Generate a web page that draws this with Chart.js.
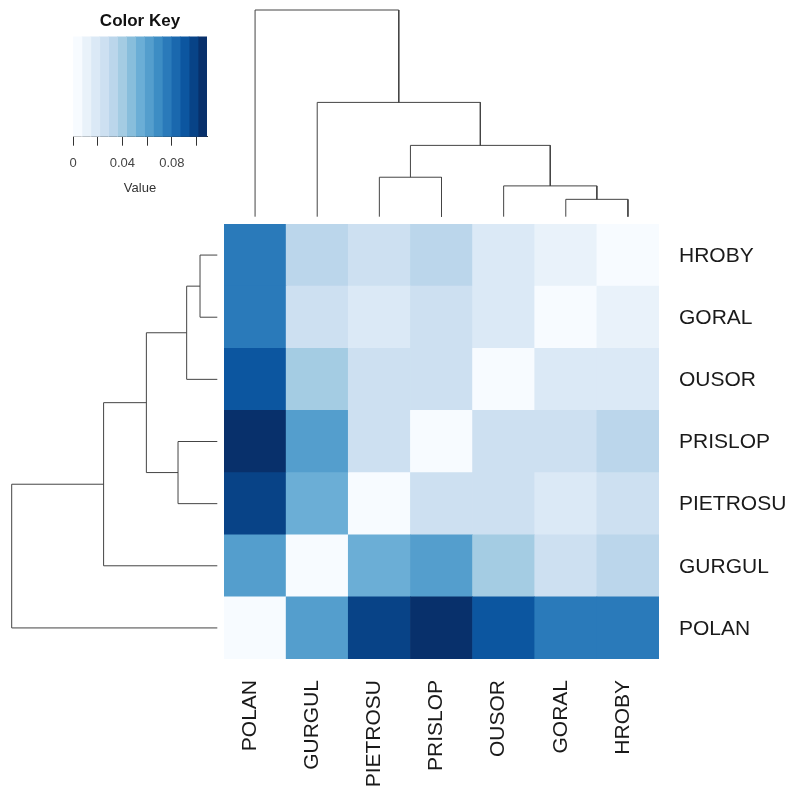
<!DOCTYPE html>
<html>
<head>
<meta charset="utf-8">
<title>Population distance heatmap</title>
<script src="https://cdn.jsdelivr.net/npm/chart.js@4.4.1/dist/chart.umd.min.js"></script>
<style>
  body { margin: 0; background: #fff; }
  canvas { position: absolute; }
</style>
</head>
<body>
<canvas id="key" width="240" height="200" style="left:0;top:0"></canvas>
<canvas id="topTree" width="435" height="224" style="left:224px;top:0"></canvas>
<canvas id="leftTree" width="224" height="435" style="left:0;top:224px"></canvas>
<canvas id="heat" width="579" height="572" style="left:224px;top:224px"></canvas>
<script>
// leaf order (left to right, and bottom to top)
const populations = ['POLAN', 'GURGUL', 'PIETROSU', 'PRISLOP', 'OUSOR', 'GORAL', 'HROBY'];

// pairwise values, one array per row, columns in the populations order
const valPolan    = [0.000, 0.062, 0.097, 0.105, 0.090, 0.076, 0.076];
const valGurgul   = [0.062, 0.000, 0.054, 0.062, 0.040, 0.025, 0.032];
const valPietrosu = [0.097, 0.054, 0.000, 0.025, 0.025, 0.018, 0.025];
const valPrislop  = [0.105, 0.062, 0.025, 0.000, 0.025, 0.025, 0.032];
const valOusor    = [0.090, 0.040, 0.025, 0.025, 0.000, 0.018, 0.018];
const valGoral    = [0.076, 0.025, 0.018, 0.025, 0.018, 0.000, 0.011];
const valHroby    = [0.076, 0.032, 0.025, 0.032, 0.018, 0.011, 0.000];

// clustering (hclust style): negative = leaf -(index+1), positive = earlier merge
const mergeA = [-6, -5, -3, 3, -2, -1];
const mergeB = [-7, 1, -4, 2, 4, 5];
const mergeHeights = [0.084, 0.149, 0.191, 0.345, 0.553, 1.0];

// colour key
const keyColors = ['#F7FBFF', '#E9F2FA', '#DBE9F6', '#CDE0F1', '#BBD6EB', '#A4CCE3', '#88BEDC', '#6BAED6',
                   '#549ECD', '#3D8DC4', '#2A7ABA', '#1A68AE', '#0C56A0', '#084387', '#08306B'];
const keyMax = 0.1085;
const keyTicks = [0, 0.02, 0.04, 0.06, 0.08, 0.10];
const keyTickLabels = ['0', '', '0.04', '', '0.08', ''];

const FONT = '"Liberation Sans", Arial, sans-serif';
const lineColor = '#444';
const binWidth = keyMax / keyColors.length;

function valueColor(v) {
  let i = Math.floor(v / binWidth);
  if (i < 0) i = 0;
  if (i > keyColors.length - 1) i = keyColors.length - 1;
  return keyColors[i];
}

// --- dendrogram links from the merge table
const nodes = [];
function getNode(ref) {
  if (ref < 0) return { pos: -ref - 1, h: 0 };
  return nodes[ref - 1];
}
const links = [];
for (let k = 0; k < mergeA.length; k++) {
  const a = getNode(mergeA[k]);
  const b = getNode(mergeB[k]);
  const H = mergeHeights[k];
  links.push([[a.pos, a.h], [a.pos, H], [b.pos, H], [b.pos, b.h]]);
  nodes.push({ pos: (a.pos + b.pos) / 2, h: H });
}

function treeDatasets(horizontal) {
  return links.map(l => ({
    data: l.map(p => horizontal ? { x: p[1], y: p[0] } : { x: p[0], y: p[1] }),
    showLine: true,
    borderColor: lineColor,
    borderWidth: 1,
    pointRadius: 0,
    tension: 0,
    clip: false
  }));
}

const noPlugins = { legend: { display: false }, tooltip: { enabled: false } };

new Chart(document.getElementById('topTree'), {
  type: 'scatter',
  data: { datasets: treeDatasets(false) },
  options: {
    responsive: false,
    animation: false,
    layout: { autoPadding: false, padding: { top: 10, bottom: 7.3, left: 0, right: 0 } },
    plugins: noPlugins,
    scales: {
      x: { type: 'linear', min: -0.5, max: 6.5, display: false },
      y: { type: 'linear', min: 0, max: 1, display: false }
    }
  }
});

new Chart(document.getElementById('leftTree'), {
  type: 'scatter',
  data: { datasets: treeDatasets(true) },
  options: {
    responsive: false,
    animation: false,
    layout: { autoPadding: false, padding: { top: 0, bottom: 0, left: 11.7, right: 6.7 } },
    plugins: noPlugins,
    scales: {
      x: { type: 'linear', min: 0, max: 1, reverse: true, display: false },
      y: { type: 'linear', min: -0.5, max: 6.5, display: false }
    }
  }
});

// --- heatmap: one stacked bar segment per cell
const rowsBottomUp = [valPolan, valGurgul, valPietrosu, valPrislop, valOusor, valGoral, valHroby];

new Chart(document.getElementById('heat'), {
  type: 'bar',
  data: {
    labels: populations,
    datasets: rowsBottomUp.map((row, r) => ({
      label: populations[r],
      data: row.map(() => 1),
      backgroundColor: row.map(valueColor),
      borderWidth: 0,
      barPercentage: 1,
      categoryPercentage: 1
    }))
  },
  options: {
    responsive: false,
    animation: false,
    layout: { autoPadding: false, padding: 0 },
    plugins: noPlugins,
    scales: {
      x: {
        stacked: true,
        grid: { display: false, drawTicks: false },
        border: { display: false },
        ticks: {
          minRotation: 90, maxRotation: 90, autoSkip: false,
          padding: 21, labelOffset: -5,
          font: { family: FONT, size: 21 }, color: '#1a1a1a'
        },
        afterFit: s => { s.height = 137; s.paddingLeft = 0; s.paddingRight = 0; }
      },
      y: {
        type: 'linear',
        position: 'right',
        stacked: true,
        min: 0, max: 7,
        grid: { display: false, drawTicks: false },
        border: { display: false },
        afterBuildTicks: s => { s.ticks = populations.map((p, i) => ({ value: i + 0.5 })); },
        ticks: {
          autoSkip: false, padding: 20, labelOffset: 1,
          callback: v => populations[Math.floor(v)],
          font: { family: FONT, size: 21 }, color: '#1a1a1a'
        },
        afterFit: s => { s.width = 144; s.paddingTop = 0; s.paddingBottom = 0; }
      }
    }
  }
});

// --- colour key
new Chart(document.getElementById('key'), {
  type: 'bar',
  data: {
    labels: ['key'],
    datasets: keyColors.map(c => ({
      data: [binWidth],
      backgroundColor: c,
      borderWidth: 0,
      barPercentage: 1,
      categoryPercentage: 1
    }))
  },
  options: {
    indexAxis: 'y',
    responsive: false,
    animation: false,
    layout: { autoPadding: false, padding: { left: 73, right: 33, top: 0, bottom: 0 } },
    plugins: {
      legend: { display: false },
      tooltip: { enabled: false },
      title: {
        display: true, text: 'Color Key',
        font: { family: FONT, size: 17, weight: 'bold' }, color: '#111',
        padding: { top: 11, bottom: 5 }
      }
    },
    scales: {
      y: { stacked: true, display: false },
      x: {
        type: 'linear', stacked: true, min: 0, max: keyMax,
        afterBuildTicks: s => { s.ticks = keyTicks.map(v => ({ value: v })); },
        ticks: {
          callback: (v, i) => keyTickLabels[i],
          font: { family: FONT, size: 13 }, color: '#444', padding: 10, autoSkip: false, maxRotation: 0
        },
        grid: { drawOnChartArea: false, drawTicks: true, tickLength: 9, color: '#333' },
        border: { display: true, color: '#333' },
        title: {
          display: true, text: 'Value',
          font: { family: FONT, size: 13 }, color: '#333',
          padding: { top: 0, bottom: 4 }
        },
        afterFit: s => { s.height = 63.3; }
      }
    }
  }
});
</script>
</body>
</html>
